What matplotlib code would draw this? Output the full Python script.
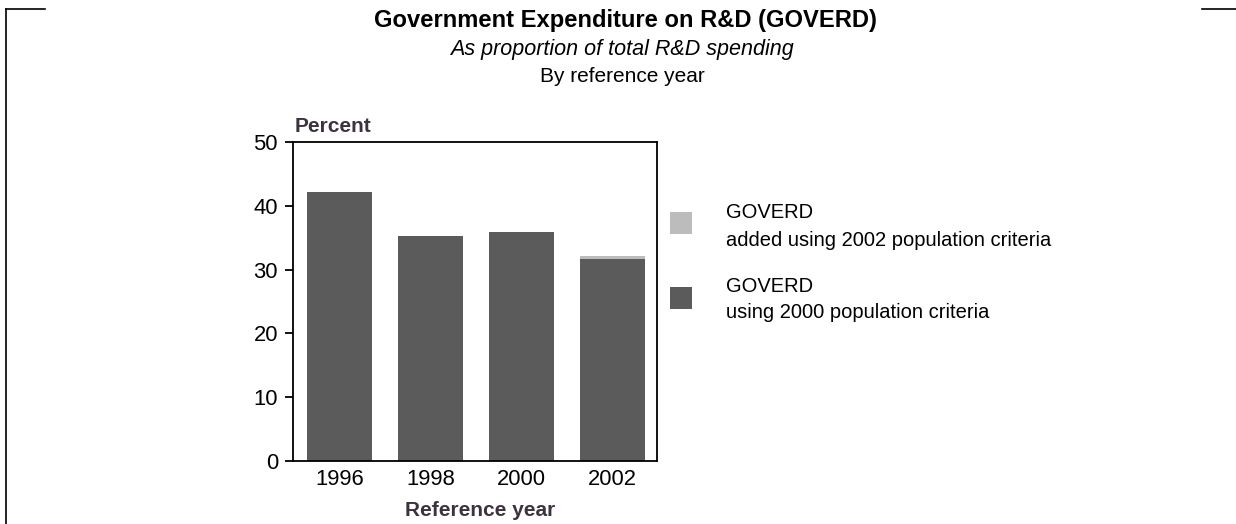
import matplotlib
matplotlib.use("Agg")
import matplotlib.pyplot as plt
from matplotlib.patches import Rectangle
from matplotlib.lines import Line2D

plt.rcParams['font.family'] = ['Liberation Sans', 'DejaVu Sans']

years = ["1996", "1998", "2000", "2002"]
goverd_2000 = [42.2, 35.3, 35.9, 31.6]
goverd_added_2002 = [0.0, 0.0, 0.0, 0.6]
y_ticks = [0, 10, 20, 30, 40, 50]

title = "Government Expenditure on R&D (GOVERD)"
subtitle = "As proportion of total R&D spending"
subtitle2 = "By reference year"
legend_labels = [("GOVERD", "added using 2002 population criteria"),
                 ("GOVERD", "using 2000 population criteria")]

dark = "#5b5b5b"
light = "#bcbcbc"
label_color = "#3d3340"

W, H = 1236, 524
fig = plt.figure(figsize=(W / 100, H / 100), dpi=100)

def fx(px):
    return px / W

def fy(py):
    return 1 - py / H

ax = fig.add_axes([fx(293), fy(461), fx(657) - fx(293), fy(142) - fy(461)])
x = list(range(len(years)))
ax.bar(x, goverd_2000, width=0.714, color=dark, linewidth=0)
ax.bar(x, goverd_added_2002, width=0.714, bottom=goverd_2000, color=light, linewidth=0)
ax.set_xlim(-0.511, 3.49)
ax.set_ylim(0, 50)
ax.set_yticks(y_ticks)
ax.set_xticks(x)
ax.set_xticklabels(years)
ax.tick_params(axis='x', length=0, labelsize=15.8, pad=6)
ax.tick_params(axis='y', length=5.8, width=1.3, labelsize=15.8, pad=5)
for s in ax.spines.values():
    s.set_linewidth(1.3)
    s.set_color("black")

fig.text(fx(295), fy(126), "Percent", fontsize=15, fontweight='bold',
         color=label_color, ha='left', va='center')
fig.text(fx(480), fy(510), "Reference year", fontsize=15, fontweight='bold',
         color=label_color, ha='center', va='center')

fig.text(fx(625), fy(21), title, fontsize=17.1, fontweight='bold', ha='center', va='center')
fig.text(fx(622), fy(50), subtitle, fontsize=15.5, style='italic', ha='center', va='center')
fig.text(fx(622), fy(77), subtitle2, fontsize=15, ha='center', va='center')

# legend
for (l1, l2), col, sq_top, t1, t2 in [(legend_labels[0], light, 212, 213, 240),
                                      (legend_labels[1], dark, 287, 286, 312)]:
    fig.add_artist(Rectangle((fx(670), fy(sq_top + 22)), fx(22), fy(sq_top) - fy(sq_top + 22),
                             transform=fig.transFigure, color=col, linewidth=0))
    fig.text(fx(726), fy(t1), l1, fontsize=14.5, ha='left', va='center')
    fig.text(fx(726), fy(t2), l2, fontsize=14.5, ha='left', va='center')

# decorative frame lines
fig.add_artist(Line2D([fx(6), fx(45)], [fy(9), fy(9)], transform=fig.transFigure, color='black', lw=1.2))
fig.add_artist(Line2D([fx(6), fx(6)], [fy(9), fy(524)], transform=fig.transFigure, color='black', lw=1.2))
fig.add_artist(Line2D([fx(1202), fx(1236)], [fy(9), fy(9)], transform=fig.transFigure, color='black', lw=1.2))

fig.savefig("out.png", dpi=100)
